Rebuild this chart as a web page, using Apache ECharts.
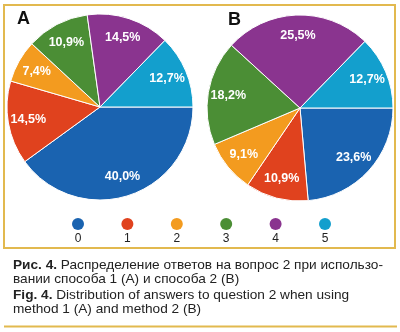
<!DOCTYPE html>
<html>
<head>
<meta charset="utf-8">
<script src="https://cdn.jsdelivr.net/npm/echarts@6/dist/echarts.min.js"></script>
<style>
  html, body { margin: 0; padding: 0; background: #ffffff; }
  #chart { width: 400px; height: 332px; }
</style>
</head>
<body>
<div id="chart"></div>
<script>
// Answer categories and their slice colours
const categories = ['0', '1', '2', '3', '4', '5'];
const colors = ['#1a63b0', '#e0421e', '#f39b1f', '#4b8e35', '#8a348f', '#139fcd'];

// Share of answers, percent
const methodA = [40.0, 14.5, 7.4, 10.9, 14.5, 12.7];
const methodB = [23.6, 10.9, 9.1, 18.2, 25.5, 12.7];

const captionRu = ['Распределение ответов на вопрос 2 при использо-', 'вании способа 1 (A) и способа 2 (B)'];
const captionEn = ['Distribution of answers to question 2 when using', 'method 1 (A) and method 2 (B)'];

const gold = '#e2b94f';
const labelFont = '"Liberation Sans", Arial, sans-serif';

function fmt(v) { return v.toFixed(1).replace('.', ',') + '%'; }

function toData(values) {
  return values.map((v, i) => ({ name: categories[i], value: v, itemStyle: { color: colors[i] } }));
}

function pieSeries(values, cx, cy) {
  const R = 93;
  return [
    {
      type: 'pie',
      center: [cx, cy],
      radius: [0, R],
      startAngle: 0,
      clockwise: true,
      silent: true,
      animation: false,
      label: { show: false },
      labelLine: { show: false },
      itemStyle: { borderColor: '#ffffff', borderWidth: 1 },
      data: toData(values)
    },
    {
      // transparent ring used only to place the value labels
      type: 'pie',
      center: [cx, cy],
      radius: [R * 0.5, R],
      startAngle: 0,
      clockwise: true,
      silent: true,
      animation: false,
      itemStyle: { color: 'rgba(0,0,0,0)' },
      label: {
        show: true,
        position: 'inside',
        color: '#ffffff',
        fontFamily: labelFont,
        fontWeight: 'bold',
        fontSize: 12.5,
        formatter: p => fmt(p.value)
      },
      labelLine: { show: false },
      data: toData(values).map(d => ({ name: d.name, value: d.value }))
    }
  ];
}

const legendX0 = 78, legendStep = 49.4, legendY = 224;
const legendGraphics = [];
categories.forEach((c, i) => {
  legendGraphics.push({
    type: 'circle',
    shape: { cx: legendX0 + i * legendStep, cy: legendY, r: 6 },
    style: { fill: colors[i] }
  });
  legendGraphics.push({
    type: 'text',
    x: legendX0 + i * legendStep, y: legendY + 15,
    style: { text: c, fill: '#222222', font: '12px "Liberation Sans", Arial, sans-serif', align: 'center', verticalAlign: 'middle' }
  });
});

const captionFont = '13px "Liberation Sans", Arial, sans-serif';
const captionBold = 'bold 13px "Liberation Sans", Arial, sans-serif';

function captionLine(y, text, boldPrefix) {
  return {
    type: 'text', x: 13, y: y, scaleX: 1.05, scaleY: 1,
    style: boldPrefix
      ? { text: '{b|' + boldPrefix + '} ' + text, rich: { b: { font: captionBold, fill: '#222222' } }, font: captionFont, fill: '#222222', verticalAlign: 'middle' }
      : { text: text, font: captionFont, fill: '#222222', verticalAlign: 'middle' }
  };
}

const chart = echarts.init(document.getElementById('chart'), null, { renderer: 'canvas' });
chart.setOption({
  backgroundColor: '#ffffff',
  animation: false,
  series: [...pieSeries(methodA, 100, 107), ...pieSeries(methodB, 300, 108)],
  graphic: [
    // frame around the figure
    { type: 'rect', shape: { x: 4, y: 5, width: 391, height: 243 }, style: { fill: null, stroke: gold, lineWidth: 2 }, z: -1 },
    { type: 'line', shape: { x1: 4, y1: 326.5, x2: 397, y2: 326.5 }, style: { stroke: gold, lineWidth: 2 } },
    { type: 'text', x: 17, y: 19, style: { text: 'A', fill: '#111111', font: 'bold 18px "Liberation Sans", Arial, sans-serif', align: 'left', verticalAlign: 'middle' } },
    { type: 'text', x: 228, y: 20, style: { text: 'B', fill: '#111111', font: 'bold 18px "Liberation Sans", Arial, sans-serif', align: 'left', verticalAlign: 'middle' } },
    ...legendGraphics,
    captionLine(265, captionRu[0], 'Рис. 4.'),
    captionLine(279, captionRu[1]),
    captionLine(295, captionEn[0], 'Fig. 4.'),
    captionLine(309, captionEn[1])
  ]
});
</script>
</body>
</html>
